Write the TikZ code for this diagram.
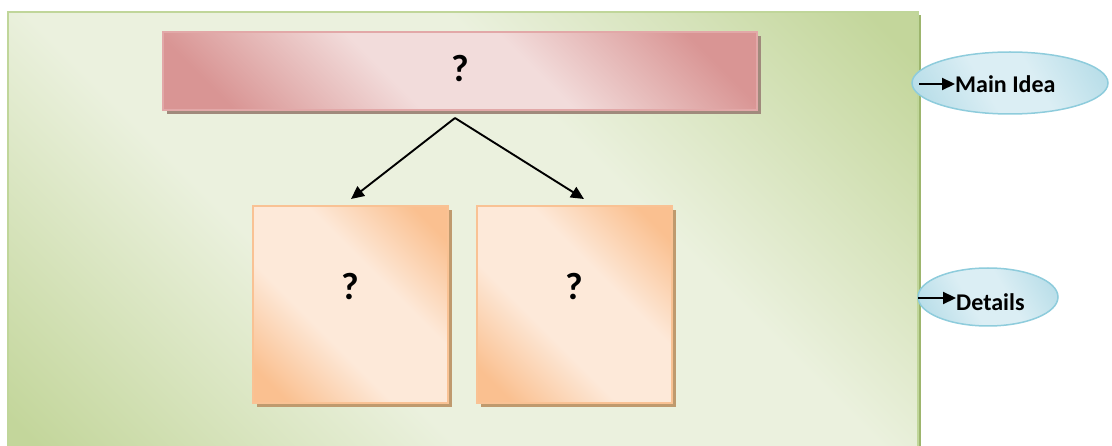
\documentclass[tikz,border=0pt]{standalone}
\usepackage{fontspec}
\setmainfont{Carlito}
\usetikzlibrary{arrows.meta,shapes.geometric}
\definecolor{gdark}{HTML}{C3D69B}
\definecolor{glight}{HTML}{EBF1DE}
\definecolor{gedge}{HTML}{C0D69A}
\definecolor{gshadow}{HTML}{9DB56D}
\definecolor{pdark}{HTML}{D99594}
\definecolor{plight}{HTML}{F2DCDB}
\definecolor{pedge}{HTML}{E2A8A8}
\definecolor{pshadow}{HTML}{A08A7C}
\definecolor{odark}{HTML}{FAC090}
\definecolor{olight}{HTML}{FDE9D9}
\definecolor{oedge}{HTML}{F9C294}
\definecolor{oshadow}{HTML}{BF9A6E}
\definecolor{bdark}{HTML}{B7DDE8}
\definecolor{blight}{HTML}{DBEEF4}
\definecolor{bedge}{HTML}{8ECCDC}
\pgfdeclarehorizontalshading{greensh}{100bp}{color(0bp)=(gdark); color(17bp)=(gdark); color(39bp)=(glight); color(61bp)=(glight); color(83bp)=(gdark); color(100bp)=(gdark)}
\pgfdeclarehorizontalshading{pinksh}{100bp}{color(0bp)=(pdark); color(22bp)=(pdark); color(42bp)=(plight); color(58bp)=(plight); color(78bp)=(pdark); color(100bp)=(pdark)}
\pgfdeclarehorizontalshading{orangesh}{100bp}{color(0bp)=(odark); color(21bp)=(odark); color(40bp)=(olight); color(60bp)=(olight); color(79bp)=(odark); color(100bp)=(odark)}
\pgfdeclarehorizontalshading{bluesh}{100bp}{color(0bp)=(bdark); color(20bp)=(bdark); color(42bp)=(blight); color(58bp)=(blight); color(80bp)=(bdark); color(100bp)=(bdark)}
\tikzset{
  qbox/.style={rectangle, inner sep=0pt, font=\bfseries\fontsize{38}{40}\selectfont, text height=25pt},
  pinkbox/.style={qbox, draw=pedge, line width=1.5pt, shading=pinksh, shading angle=45, text depth=4pt},
  orangebox/.style={qbox, draw=oedge, line width=1.5pt, shading=orangesh, shading angle=45, text depth=34pt},
  bubble/.style={ellipse, inner sep=0pt, draw=bedge, line width=1.5pt, shading=bluesh, shading angle=30},
  label/.style={font=\bfseries\fontsize{24}{26}\selectfont, inner sep=0pt, anchor=west},
  conn/.style={line width=1.9pt, -{Triangle[length=13pt,width=12pt]}},
  smallconn/.style={line width=2.2pt, -{Triangle[length=13pt,width=12pt]}},
}
\begin{document}
\begin{tikzpicture}[x=1pt,y=-1pt]
\useasboundingbox (0,0) rectangle (1112,446);
\clip (0,0) rectangle (1112,446);
% background panel
\fill[gshadow] (11,15) rectangle (921,470);
\path[draw=gedge, line width=2pt, shading=greensh, shading angle=45] (8,12) rectangle (918,466);
% main idea box
\fill[pshadow] (167,36) rectangle (761,114);
\node[pinkbox, minimum width=594pt, minimum height=78pt] (top) at (460,71) {?};
% detail boxes
\fill[oshadow] (257,210) rectangle (452,407);
\node[orangebox, minimum width=195pt, minimum height=197pt] (left) at (350.5,304.5) {?};
\fill[oshadow] (481,210) rectangle (676,407);
\node[orangebox, minimum width=195pt, minimum height=197pt] (right) at (574.5,304.5) {?};
% connectors
\coordinate (split) at (455,118);
\coordinate (lt) at (351,199);
\coordinate (rt) at (584,199);
\draw[conn] (split) -- (lt);
\draw[conn] (split) -- (rt);
% legend bubbles
\node[bubble, minimum width=196pt, minimum height=62pt] (b1) at (1010,83) {};
\node[bubble, minimum width=140pt, minimum height=58pt] (b2) at (988,297) {};
\node[label] (t1) at (955,84) {Main Idea};
\node[label] (t2) at (956,302) {Details};
\coordinate (a1) at (919,84);
\coordinate (a2) at (918,298);
\draw[smallconn] (a1) -- (t1.west);
\draw[smallconn] (a2) -- (t2.west |- a2);
\end{tikzpicture}
\end{document}
